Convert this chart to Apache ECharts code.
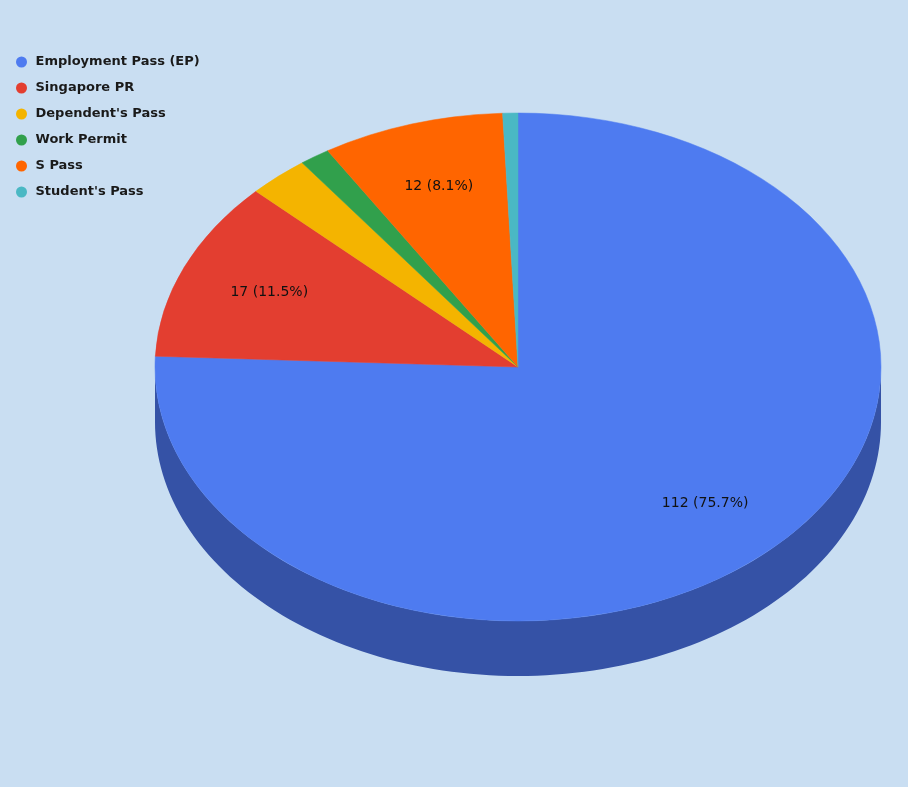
<!DOCTYPE html>
<html>
<head>
<meta charset="utf-8">
<script src="https://cdn.jsdelivr.net/npm/echarts@6/dist/echarts.min.js"></script>
<style>
  html, body { margin: 0; padding: 0; background: #c9def2; }
  #passChart { width: 908px; height: 787px; }
</style>
</head>
<body>
<div id="passChart"></div>
<script>
// 数据
var categories = ['Employment Pass (EP)', 'Singapore PR', "Dependent's Pass", 'Work Permit', 'S Pass', "Student's Pass"];
var values = [112, 17, 4, 2, 12, 1];
var colors = ['#4e7bf0', '#e33e30', '#f4b400', '#31a04c', '#ff6500', '#4ab8c4'];
var sideColors = ['#3552a6', '#9e2b21', '#a97d00', '#216f35', '#b34700', '#33808a'];

var total = values.reduce(function (a, b) { return a + b; }, 0);
var cum = [0];
values.forEach(function (v, i) { cum.push(cum[i] + v); });

// 饼图位置 (像素)
var CX = 518, CY = 367, RX = 363, RY = 254, DEPTH = 55;
var FONT = '"Comic Sans MS", "DejaVu Sans", sans-serif';

function pt(theta, dy) {
  return [CX + RX * Math.sin(theta), CY - RY * Math.cos(theta) + (dy || 0)];
}

function makeRender(i) {
  return function (params, api) {
    var a0 = cum[i] / total * Math.PI * 2;
    var a1 = cum[i + 1] / total * Math.PI * 2;
    var children = [];

    // 侧面 (只画前半部分)
    var s = Math.max(a0, Math.PI / 2), e = Math.min(a1, Math.PI * 1.5);
    if (s < e) {
      var top = [], bottom = [];
      var n = 120;
      for (var k = 0; k <= n; k++) {
        var t = s + (e - s) * k / n;
        top.push(pt(t, 0));
        bottom.push(pt(t, DEPTH));
      }
      children.push({
        type: 'polygon',
        z2: 1,
        shape: { points: top.concat(bottom.reverse()) },
        style: { fill: sideColors[i] }
      });
    }

    // 顶面
    children.push({
      type: 'sector',
      z2: 2,
      originX: CX,
      originY: CY,
      scaleY: RY / RX,
      shape: {
        cx: CX, cy: CY, r0: 0, r: RX,
        startAngle: a0 - Math.PI / 2,
        endAngle: a1 - Math.PI / 2,
        clockwise: true
      },
      style: { fill: colors[i], stroke: colors[i], lineWidth: 0.6 }
    });

    // 标签
    var pct = values[i] / total * 100;
    if (pct >= 5) {
      var m = (a0 + a1) / 2;
      var lp = [CX + RX * 0.745 * Math.sin(m), CY - RY * 0.745 * Math.cos(m)];
      children.push({
        type: 'text',
        z2: 3,
        x: lp[0], y: lp[1],
        style: {
          text: values[i] + ' (' + pct.toFixed(1) + '%)',
          fill: '#111',
          font: '14px ' + FONT,
          align: 'center',
          verticalAlign: 'middle'
        }
      });
    }
    return { type: 'group', children: children };
  };
}

var myChart = echarts.init(document.getElementById('passChart'));

var option = {
  backgroundColor: '#c9def2',
  animation: false,
  legend: {
    orient: 'vertical',
    left: 11,
    top: 50,
    icon: 'circle',
    itemWidth: 18,
    itemHeight: 11,
    itemGap: 12,
    data: categories,
    textStyle: {
      color: '#1a1a1a',
      fontFamily: FONT,
      fontWeight: 'bold',
      fontSize: 13,
      lineHeight: 14
    }
  },
  series: categories.map(function (name, i) {
    return {
      type: 'custom',
      name: name,
      coordinateSystem: 'none',
      itemStyle: { color: colors[i] },
      data: [values[i]],
      renderItem: makeRender(i)
    };
  })
};

myChart.setOption(option);
</script>
</body>
</html>
